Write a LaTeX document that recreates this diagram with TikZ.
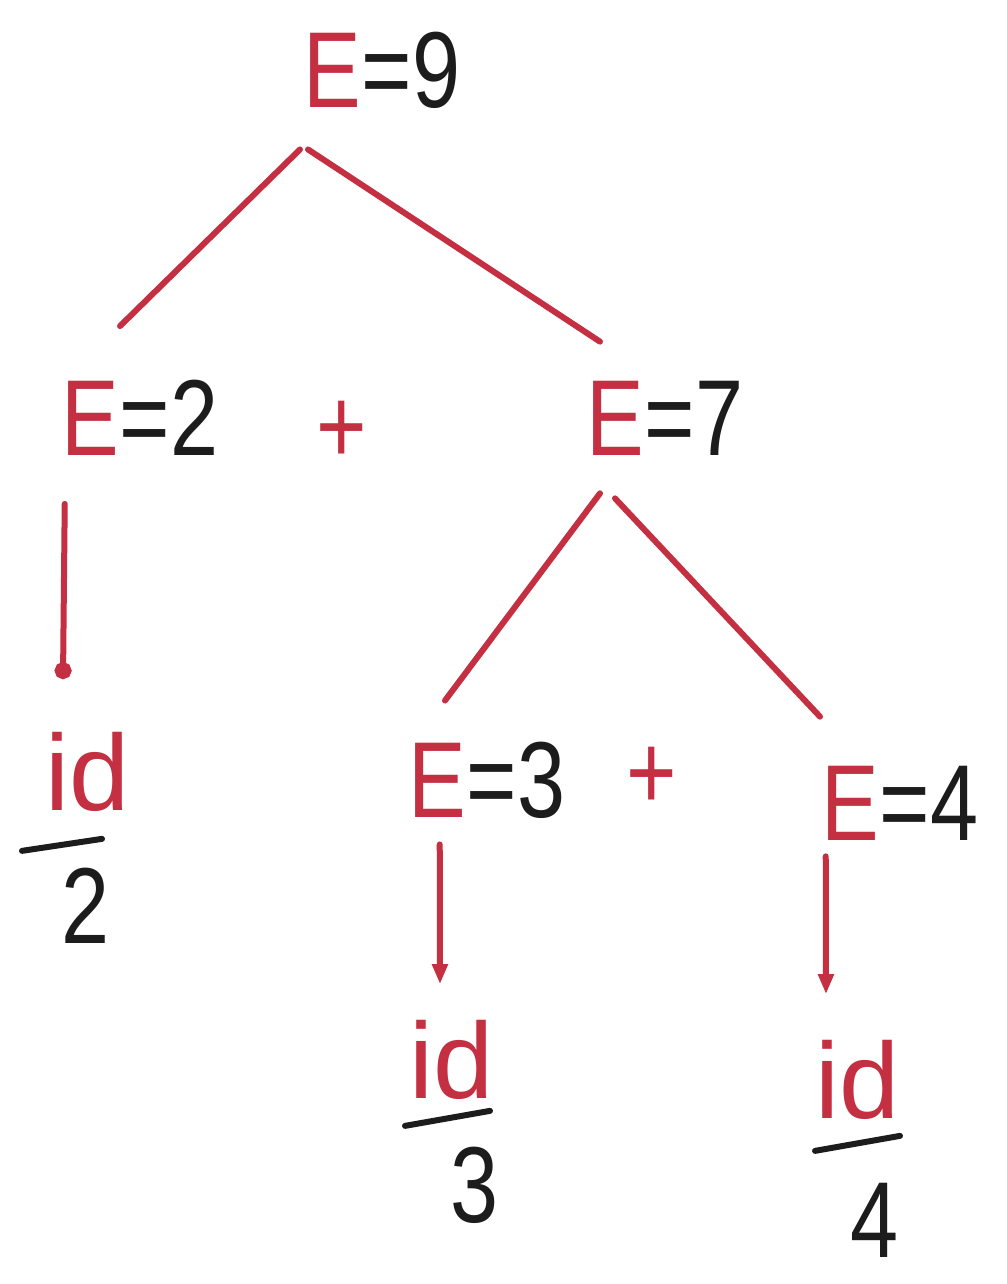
\documentclass[tikz,border=0pt]{standalone}
\usepackage{fontspec}
\newfontfamily\handfont[FakeStretch=0.8]{Liberation Sans}
\newfontfamily\idfont{Liberation Sans}
\usetikzlibrary{arrows.meta}
\definecolor{inkred}{RGB}{196,48,66}
\definecolor{inkblack}{RGB}{28,28,28}
\newcommand{\Eval}[1]{\textcolor{inkred}{E}\textcolor{inkblack}{=#1}}

\begin{document}
\begin{tikzpicture}[x=1pt,y=-1pt,
  lbl/.style={inner sep=0pt,font=\handfont\fontsize{108}{120}\selectfont,text=inkblack},
  op/.style={lbl,text=inkred},
  idlbl/.style={inner sep=0pt,font=\idfont\fontsize{108}{120}\selectfont,text=inkred},
  branch/.style={draw=inkred,line width=6pt,line cap=round},
  dotarrow/.style={branch,-{Circle[length=17pt]}},
  tiparrow/.style={branch,-{Triangle[length=20pt,width=15pt]}},
  bar/.style={draw=inkblack,line width=6pt,line cap=round}]
\useasboundingbox[fill=white] (0,0) rectangle (1006,1284);
% root
\node[lbl] (e9) at (382,70) {\Eval{9}};
% first level
\node[lbl] (e2) at (140,418) {\Eval{2}};
\node[op] (plus1) at (342,432) {+};
\node[lbl] (e7) at (665,418) {\Eval{7}};
% second level
\node[lbl] (e3) at (487,780) {\Eval{3}};
\node[op] (plus2) at (652,778) {+};
\node[lbl] (e4) at (900,803) {\Eval{4}};
% leaves
\node[idlbl] (id2) at (88,772) {id};
\node[idlbl] (id3) at (452,1060) {id};
\node[idlbl] (id4) at (858,1080) {id};
\node[lbl] (n2) at (86,906) {2};
\node[lbl] (n3) at (475,1185) {3};
\node[lbl] (n4) at (875,1220) {4};
% tree branches
\draw[branch] ([shift={(-82,41)}]e9.south) -- ([shift={(-20,-54)}]e2.north);
\draw[branch] ([shift={(-74,41)}]e9.south) -- ([shift={(-65,-39)}]e7.north);
\draw[branch] ([shift={(-65,38)}]e7.south) -- ([shift={(-42,-41)}]e3.north);
\draw[branch] ([shift={(-50,43)}]e7.south) -- ([shift={(-80,-49)}]e4.north);
% down to the ids
\draw[dotarrow] ([shift={(3,48)}]e2.south west) -- ([shift={(-25,-53)}]id2.north);
\draw[tiparrow] ([shift={(31,26)}]e3.south west) -- ([shift={(-12,-36)}]id3.north);
\draw[tiparrow] ([shift={(4,16)}]e4.south west) -- ([shift={(-32,-46)}]id4.north);
% lexval bars
\draw[bar] ([shift={(-66,39)}]id2.south) -- ([shift={(14,27)}]id2.south);
\draw[bar] ([shift={(-47,26)}]id3.south) -- ([shift={(38,11)}]id3.south);
\draw[bar] ([shift={(-43,31)}]id4.south) -- ([shift={(42,16)}]id4.south);
\end{tikzpicture}
\end{document}
